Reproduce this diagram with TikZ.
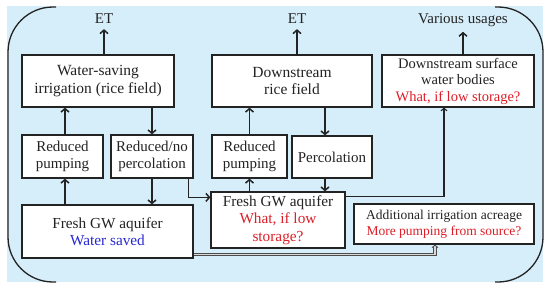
\documentclass[tikz,border=0pt]{standalone}
\usepackage{fontspec}
\setmainfont{Liberation Serif}
\usetikzlibrary{arrows.meta,calc}
\definecolor{bgblue}{RGB}{214,238,250}
\definecolor{txtred}{RGB}{222,30,40}
\definecolor{txtblue}{RGB}{40,40,210}
\definecolor{ink}{RGB}{35,35,35}
\begin{document}
\begin{tikzpicture}[x=1pt,y=-1pt,
  box/.style={draw=ink, line width=1.2pt, fill=white, align=center, inner sep=1pt, text=ink, font=\fontsize{15}{17.5}\selectfont},
  lbl/.style={text=ink, inner sep=0pt, font=\fontsize{15}{16}\selectfont},
  arr/.style={line width=1.5pt, draw=ink, -{Straight Barb[length=3.5pt,width=8pt]}},
  thinarr/.style={line width=1.1pt, draw=ink, -{Straight Barb[length=2.5pt,width=6pt]}},
  grayarr/.style={line width=0.8pt, draw=gray!60!black, double=gray!30, double distance=1.5pt, -{Straight Barb[length=2.5pt,width=6pt]}},
  frame/.style={line width=1.3pt, draw=ink, rounded corners=45pt}
]
\useasboundingbox (0,0) rectangle (550,287);
\fill[bgblue] (7,6) rectangle (543,282);
\draw[frame] (56,7) -- (8,7) -- (8,282) -- (56,282);
\draw[frame] (495,7) -- (543,7) -- (543,282) -- (495,282);

% boxes
\node[box, minimum width=152pt, minimum height=52pt, font=\fontsize{15.5}{18}\selectfont] (wsi) at (98,81) {Water-saving\\irrigation (rice field)};
\node[box, minimum width=81pt, minimum height=43pt] (rp1) at (62.5,156.5) {Reduced\\pumping};
\node[box, minimum width=82pt, minimum height=43pt] (rnp) at (152,156.5) {Reduced/no\\percolation};
\node[box, minimum width=171pt, minimum height=53pt, font=\fontsize{15.3}{17}\selectfont] (aq1) at (107.5,231.5) {Fresh GW aquifer\\\textcolor{txtblue}{Water saved}};
\node[box, minimum width=160pt, minimum height=52pt, font=\fontsize{15.5}{17}\selectfont] (drf) at (292,81) {Downstream\\rice field};
\node[box, minimum width=75pt, minimum height=43pt] (rp2) at (249.5,156.5) {Reduced\\pumping};
\node[box, minimum width=80pt, minimum height=42pt] (perc) at (332,157) {Percolation};
\node[box, minimum width=134pt, minimum height=56pt, font=\fontsize{15.3}{17.5}\selectfont] (aq2) at (278,220) {Fresh GW aquifer\\\textcolor{txtred}{What, if low}\\\textcolor{txtred}{storage?}};
\node[box, minimum width=152pt, minimum height=52pt, font=\fontsize{14.5}{16.5}\selectfont] (dswb) at (458,81) {Downstream surface\\water bodies\\\textcolor{txtred}{What, if low storage?}};
\node[box, minimum width=180pt, minimum height=40pt, font=\fontsize{13.5}{16}\selectfont] (add) at (444,224) {Additional irrigation acreage\\\textcolor{txtred}{More pumping from source?}};

% top labels
\node[lbl] (et1) at (104,19) {ET};
\node[lbl] (et2) at (297,19) {ET};
\node[lbl] (vu) at (463,20) {Various usages};

% connectors
\draw[arr] (wsi.north -| et1) -- ($(et1.south)+(0,5)$);
\draw[arr] (drf.north -| et2) -- ($(et2.south)+(0,5)$);
\draw[arr] (dswb.north -| vu) -- ($(vu.south)+(0,5)$);

\draw[arr] ($(rp1.north)+(2.5,0)$) -- ($(rp1.north |- wsi.south)+(2.5,0)$);
\draw[arr] (wsi.south -| rnp.north) -- (rnp.north);
\draw[arr] ($(aq1.north -| rp1.south)+(2.5,0)$) -- ($(rp1.south)+(2.5,0)$);
\draw[arr] (rnp.south) -- (rnp.south |- aq1.north);
\draw[arr] ($(rnp.south east)+(-5,0)$) |- ($(aq2.north west)+(0,6)$);

\draw[arr] (rp2.north) -- (rp2.north |- drf.south);
\draw[arr] (aq2.north -| rp2.south) -- (rp2.south);
\draw[arr] ($(drf.south -| perc.north)+(-7,0)$) -- ($(perc.north)+(-7,0)$);
\draw[arr] ($(perc.south)+(-7,0)$) -- ($(perc.south |- aq2.north)+(-7,0)$);

\draw[thinarr] ($(aq2.north east)+(0,5)$) -| ($(dswb.south)+(-14,0)$);
\draw[grayarr] ($(aq1.south east)+(0,-4)$) -| ($(add.south)+(-9,0)$);
\end{tikzpicture}
\end{document}
